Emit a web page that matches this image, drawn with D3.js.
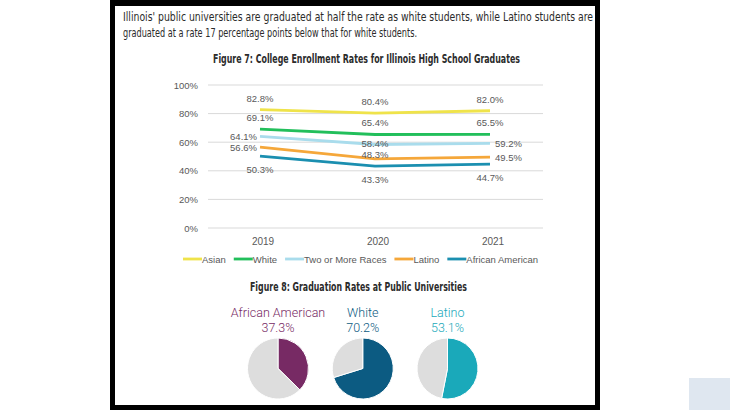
<!DOCTYPE html>
<html>
<head>
<meta charset="utf-8">
<script src="https://cdn.jsdelivr.net/npm/d3@7"></script>
<style>
  body { margin: 0; background: #fff; }
  svg { display: block; }
  .narrow { font-family: "Liberation Sans Narrow", "DejaVu Sans Condensed", sans-serif; fill: #2b2b2b; }
  .lbl { font-family: "Liberation Sans", Arial, sans-serif; fill: #595959; }
</style>
</head>
<body>
<svg id="chart" width="730" height="410"></svg>
<script>
// chart data
const years = ['2019', '2020', '2021'];
const yTicks = [0, 20, 40, 60, 80, 100];
const seriesNames = ['Asian', 'White', 'Two or More Races', 'Latino', 'African American'];
const asian = [82.8, 80.4, 82.0];
const white = [69.1, 65.4, 65.5];
const twoOrMore = [64.1, 58.4, 59.2];
const latino = [56.6, 48.3, 49.5];
const africanAmerican = [50.3, 43.3, 44.7];

const gradGroups = ['African American', 'White', 'Latino'];
const gradRates = [37.3, 70.2, 53.1];

const introLines = [
  "Illinois' public universities are graduated at half the rate as white students, while Latino students are",
  "graduated at a rate 17 percentage points below that for white students."
];
const fig7Title = 'Figure 7:  College Enrollment Rates for Illinois High School Graduates';
const fig8Title = 'Figure 8:  Graduation Rates at Public Universities';

// styling
const lineColors = ['#efe34a', '#22bf5b', '#a9dcec', '#f5a73a', '#1b8fb0'];
const pieColors = ['#772a64', '#0c5b82', '#1aa9ba'];
// where each point label sits relative to its point
const labelPos = [
  ['above', 'above', 'above'],
  ['above', 'above', 'above'],
  ['left', 'center', 'right'],
  ['left', 'tight', 'right'],
  ['below', 'below', 'below']
];

const values = [asian, white, twoOrMore, latino, africanAmerican];

const svg = d3.select('#chart');

// frame
svg.append('rect').attr('x', 110).attr('y', 0).attr('width', 490).attr('height', 410).attr('fill', '#000');
svg.append('rect').attr('x', 115).attr('y', 6).attr('width', 480).attr('height', 399).attr('fill', '#fff');
svg.append('rect').attr('x', 689).attr('y', 378).attr('width', 41).attr('height', 32).attr('fill', '#dfe7f0');

// intro text
svg.append('text').attr('class', 'narrow').attr('x', 123).attr('y', 21)
  .attr('font-size', 11.5).attr('textLength', 470).attr('lengthAdjust', 'spacingAndGlyphs')
  .text(introLines[0]);
svg.append('text').attr('class', 'narrow').attr('x', 123).attr('y', 37)
  .attr('font-size', 11.5).attr('textLength', 294).attr('lengthAdjust', 'spacingAndGlyphs')
  .text(introLines[1]);

svg.append('text').attr('class', 'narrow').attr('x', 213).attr('y', 63)
  .attr('font-size', 11.5).attr('font-weight', 'bold').attr('fill', '#333').attr('textLength', 307).attr('lengthAdjust', 'spacingAndGlyphs')
  .text(fig7Title);

// line chart
const x = d3.scaleBand().domain(years).range([202.5, 547.5]);
const y = d3.scaleLinear().domain([0, 100]).range([228, 85]);
const cx = d => x(d) + x.bandwidth() / 2;

const grid = svg.append('g');
grid.selectAll('line').data(yTicks).join('line')
  .attr('x1', 208).attr('x2', 543)
  .attr('y1', d => y(d)).attr('y2', d => y(d))
  .attr('stroke', '#d9d9d9').attr('stroke-width', 1);
grid.selectAll('text').data(yTicks).join('text')
  .attr('class', 'lbl').attr('font-size', 9.5)
  .attr('x', 198).attr('y', d => y(d) + 3.5).attr('text-anchor', 'end')
  .text(d => d + '%');

svg.append('g').selectAll('text').data(years).join('text')
  .attr('class', 'lbl').attr('font-size', 10)
  .attr('x', d => cx(d) + 3).attr('y', 245).attr('text-anchor', 'middle')
  .text(d => d);

const line = d3.line().x((d, i) => cx(years[i])).y(d => y(d));

svg.append('g').selectAll('path').data(values).join('path')
  .attr('d', d => line(d))
  .attr('fill', 'none')
  .attr('stroke', (d, i) => lineColors[i])
  .attr('stroke-width', 2.8);

const labels = svg.append('g');
values.forEach((vals, si) => {
  vals.forEach((v, i) => {
    const pos = labelPos[si][i];
    let px = cx(years[i]), py = y(v), anchor = 'middle';
    if (pos === 'above') py -= 8;
    else if (pos === 'below') py += 16.5;
    else if (pos === 'tight') py -= 1;
    else if (pos === 'center') py += 3;
    else if (pos === 'left') { px -= 3; py += 3.5; anchor = 'end'; }
    else if (pos === 'right') { px += 5; py += 3.5; anchor = 'start'; }
    labels.append('text').attr('class', 'lbl').attr('font-size', 9.5)
      .attr('x', px).attr('y', py).attr('text-anchor', anchor)
      .text(v.toFixed(1) + '%');
  });
});

// legend
const legend = svg.append('g').attr('transform', 'translate(183,259)');
let lx = 0;
seriesNames.forEach((name, i) => {
  legend.append('line').attr('x1', lx).attr('x2', lx + 19).attr('y1', 0).attr('y2', 0)
    .attr('stroke', lineColors[i]).attr('stroke-width', 2.8);
  const t = legend.append('text').attr('class', 'lbl').attr('font-size', 9.5)
    .attr('x', lx + 19).attr('y', 3.5).text(name);
  lx += 19 + t.node().getComputedTextLength() + 8;
});

// figure 8
svg.append('text').attr('class', 'narrow').attr('x', 250).attr('y', 291)
  .attr('font-size', 11.5).attr('font-weight', 'bold').attr('fill', '#333').attr('textLength', 217).attr('lengthAdjust', 'spacingAndGlyphs')
  .text(fig8Title);

const px = d3.scalePoint().domain(gradGroups).range([278, 447.5]);
const pie = d3.pie().sort(null);
const arc = d3.arc().innerRadius(0).outerRadius(30.5);

gradGroups.forEach((g, i) => {
  const gx = px(g);
  const grp = svg.append('g').attr('transform', `translate(${gx},368.5)`);
  grp.selectAll('path').data(pie([gradRates[i], 100 - gradRates[i]])).join('path')
    .attr('d', arc)
    .attr('fill', (d, j) => j === 0 ? pieColors[i] : '#dddddd')
    .attr('stroke', '#fff').attr('stroke-width', 1);
  svg.append('text').attr('x', gx).attr('y', 316.5).attr('text-anchor', 'middle')
    .attr('font-family', 'Roboto, "Liberation Sans", sans-serif').attr('font-weight', 300)
    .attr('font-size', 12.5).attr('fill', pieColors[i]).text(g);
  svg.append('text').attr('x', gx).attr('y', 331.5).attr('text-anchor', 'middle')
    .attr('font-family', 'Roboto, "Liberation Sans", sans-serif').attr('font-weight', 300)
    .attr('font-size', 12.5).attr('fill', pieColors[i]).text(gradRates[i].toFixed(1) + '%');
});
</script>
</body>
</html>
